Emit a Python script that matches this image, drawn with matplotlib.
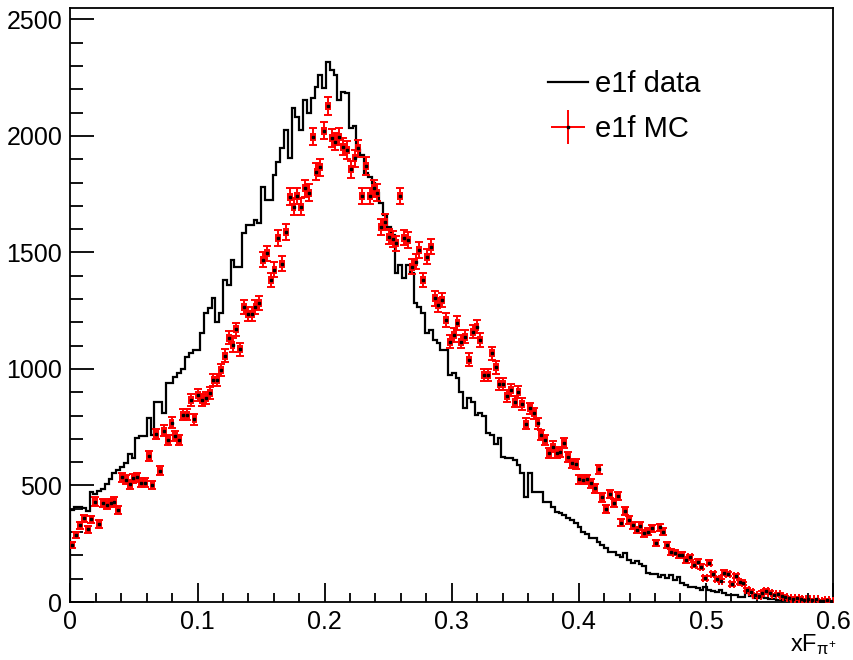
import numpy as np
import matplotlib
matplotlib.use("Agg")
import matplotlib.pyplot as plt
from matplotlib.lines import Line2D
from matplotlib.legend_handler import HandlerTuple

# DATA  (200 bins of xF between 0 and 0.6, counts)
x_min, x_max, n_bins = 0.0, 0.6, 200

data_counts = [
    395, 409, 409, 405, 390, 470, 465, 475, 484, 505,
    527, 552, 567, 580, 598, 634, 617, 702, 712, 712,
    788, 717, 860, 860, 813, 938, 938, 967, 984, 1000,
    1053, 1067, 1082, 1082, 1153, 1240, 1260, 1303, 1203, 1239,
    1382, 1361, 1468, 1439, 1439, 1582, 1618, 1618, 1639, 1625,
    1783, 1725, 1725, 1833, 1890, 1947, 2026, 1904, 2119, 2083,
    2026, 2155, 2097, 2162, 2212, 2262, 2205, 2319, 2283, 2262,
    2155, 2190, 2183, 2033, 2043, 1940, 1918, 1840, 1825, 1797,
    1754, 1711, 1661, 1611, 1575, 1411, 1446, 1389, 1446, 1411,
    1282, 1267, 1239, 1153, 1167, 1124, 1110, 1082, 1082, 974,
    981, 960, 900, 831, 874, 860, 803, 810, 800, 724,
    717, 680, 702, 624, 617, 617, 610, 588, 552, 452,
    552, 474, 474, 470, 431, 431, 409, 388, 380, 373,
    360, 352, 340, 323, 300, 290, 273, 273, 259, 245,
    231, 216, 216, 202, 195, 209, 180, 166, 175, 163,
    155, 123, 120, 120, 109, 116, 102, 116, 94, 106,
    80, 73, 66, 66, 59, 52, 66, 52, 48, 44,
    52, 37, 30, 30, 28, 23, 23, 37, 25, 16,
    16, 20, 16, 12, 11, 10, 9, 8, 8, 7,
    6, 6, 5, 5, 4, 3, 3, 2, 2, 1,
]

mc_counts = [
    245, 288, 330, 359, 312, 355, 431, 335, 426, 416,
    426, 431, 395, 535, 524, 506, 531, 535, 512, 512,
    627, 502, 721, 564, 735, 695, 770, 712, 695, 803,
    803, 867, 784, 888, 867, 874, 896, 953, 953, 996,
    1056, 1134, 1103, 1170, 1084, 1267, 1236, 1236, 1267, 1282,
    1468, 1496, 1382, 1425, 1561, 1451, 1589, 1740, 1697, 1742,
    1697, 1775, 1757, 1997, 1847, 1866, 2023, 2129, 1990, 1976,
    1997, 1954, 1940, 1857, 1904, 1947, 1742, 1871, 1742, 1775,
    1757, 1611, 1632, 1568, 1557, 1539, 1742, 1564, 1554, 1439,
    1461, 1511, 1382, 1482, 1525, 1303, 1275, 1296, 1210, 1117,
    1146, 1196, 1117, 1139, 1039, 1160, 1182, 1124, 974, 974,
    1067, 1007, 936, 936, 884, 910, 860, 903, 850, 764,
    831, 810, 767, 717, 695, 638, 667, 638, 645, 681,
    624, 595, 592, 527, 524, 527, 509, 488, 569, 449,
    398, 464, 426, 455, 340, 392, 352, 330, 309, 326,
    295, 302, 316, 252, 320, 302, 245, 216, 212, 202,
    202, 180, 192, 159, 173, 152, 102, 169, 120, 97,
    92, 126, 120, 77, 112, 87, 80, 52, 44, 30,
    26, 40, 49, 40, 30, 34, 26, 23, 16, 11,
    16, 11, 9, 11, 9, 11, 6, 3, 9, 3,
]

legend_labels = ["e1f data", "e1f MC"]
x_label = r"xF$_{\pi^{+}}$"

# statistical error bars on the MC, about sqrt(N) as seen on the picture
err_scale = 0.85

plt.rcParams["font.family"] = ["Liberation Sans", "DejaVu Sans"]
plt.rcParams["mathtext.fontset"] = "custom"
plt.rcParams["mathtext.rm"] = "Liberation Sans"
plt.rcParams["mathtext.it"] = "Liberation Sans"


def draw():
    edges = np.linspace(x_min, x_max, n_bins + 1)
    centers = 0.5 * (edges[:-1] + edges[1:])
    half_w = 0.5 * (edges[1] - edges[0])
    data = np.array(data_counts, dtype=float)
    mc = np.array(mc_counts, dtype=float)
    mc_err = err_scale * np.sqrt(mc)

    fig = plt.figure(figsize=(8.54, 6.6), dpi=100)
    ax = fig.add_axes([70.5 / 854, 58 / 660, (833 - 70.5) / 854, 594 / 660])

    ax.stairs(data, edges, baseline=0, color="black", lw=1.6, zorder=3)
    ax.errorbar(centers, mc, xerr=half_w, yerr=mc_err, fmt="s", ms=1.8,
                mfc="black", mec="black", ecolor="red", elinewidth=1.4,
                capsize=2.6, capthick=1.4, zorder=4)

    ax.set_xlim(x_min, x_max)
    ax.set_ylim(0, 2549)
    ax.set_xticks(np.arange(0, 0.61, 0.1))
    ax.set_xticklabels(["0", "0.1", "0.2", "0.3", "0.4", "0.5", "0.6"])
    ax.set_xticks(np.arange(0, 0.601, 0.02), minor=True)
    ax.set_yticks(np.arange(0, 2501, 500))
    ax.set_yticks(np.arange(0, 2501, 100), minor=True)
    ax.tick_params(axis="both", which="both", direction="in", top=False,
                   right=False, width=1.3, labelsize=18, colors="black")
    ax.tick_params(axis="x", which="major", length=13.5, pad=6)
    ax.tick_params(axis="x", which="minor", length=6.8)
    ax.tick_params(axis="y", which="major", length=17.5, pad=6)
    ax.tick_params(axis="y", which="minor", length=9)
    for s in ax.spines.values():
        s.set_linewidth(1.3)

    ax.text(1.005, -0.05, x_label, transform=ax.transAxes, ha="right",
            va="top", fontsize=17)

    h_data = Line2D([], [], color="black", lw=1.6)
    h_mc = (Line2D([], [], color="red", marker="+", ms=24, mew=1.4, ls="none"),
            Line2D([], [], color="black", marker="s", ms=1.8, ls="none"))
    ax.legend([h_data, h_mc], legend_labels, loc="upper left",
              bbox_to_anchor=(0.592, 0.94), frameon=False, fontsize=21,
              handlelength=1.35, handletextpad=0.25, labelspacing=0.6,
              handler_map={tuple: HandlerTuple(ndivide=1, pad=0)})

    fig.savefig("out.png", dpi=100)


if __name__ == "__main__":
    draw()
